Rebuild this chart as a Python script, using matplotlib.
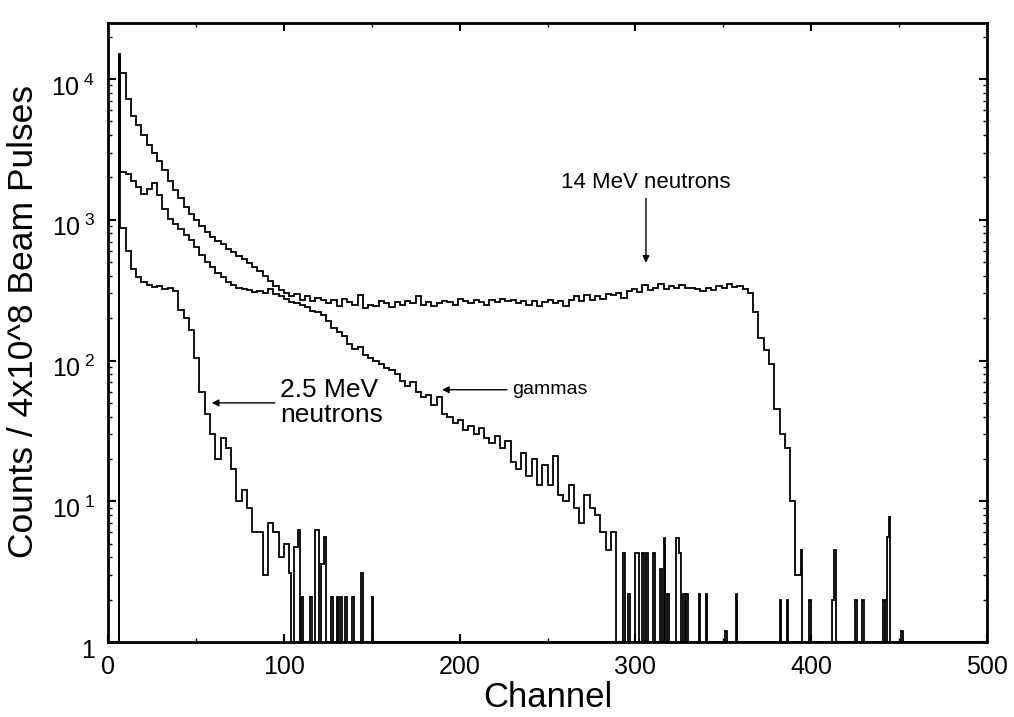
import numpy as np
import matplotlib
matplotlib.use('Agg')
import matplotlib.pyplot as plt
from matplotlib.ticker import MultipleLocator, NullFormatter
from matplotlib.transforms import ScaledTranslation

plt.rcParams['font.family'] = ['Liberation Sans', 'DejaVu Sans']
plt.rcParams['mathtext.fontset'] = 'custom'
plt.rcParams['mathtext.rm'] = 'Liberation Sans'
plt.rcParams['mathtext.it'] = 'Liberation Sans:italic'

# spectra: counts in 3-channel bins from bin_start,
# plus single channels (the first channel and the sparse tail counts)
bin_start = 7
bin_width = 3

n14_counts = [11000, 7200, 5500, 4700, 4000, 3400, 3000, 2600, 2250, 1900,
              1620, 1420, 1240, 1100, 990, 900, 820, 760, 710, 670,
              620, 590, 550, 525, 495, 465, 435, 400, 370, 340,
              315, 300,
              285, 295, 270, 285, 265, 280, 270, 255, 270, 245,
              275, 260, 250, 290, 235, 250, 245, 265, 255, 240,
              260, 250, 265, 255, 285, 250, 260, 245, 255, 265,
              260, 250, 275, 265, 255, 270, 260, 250, 270, 260,
              275, 265, 270, 255, 265, 250, 265, 245, 260, 270,
              255, 265, 245, 270, 285, 265, 290, 270, 285, 275,
              295, 290, 300, 280, 310, 320, 305, 345, 315, 330,
              350, 320, 340, 330, 345, 325, 330, 320, 310, 330,
              315, 340, 330, 350, 335, 340, 320,
              300, 220, 145, 118, 95, 45, 30, 24, 10, 3]
n14_single_ch = [6, 394, 399, 412, 413, 425, 429, 441, 443, 444, 451]
n14_single_n = [15000, 4.5, 2, 2, 4.5, 2, 2, 2, 5.6, 7.7, 1.2]

gamma_counts = [2200, 2100, 1900, 1700, 1530, 1650, 1820, 1500, 1200, 1020,
                930, 860, 780, 720, 640, 560, 500, 460, 420, 390,
                360, 345, 330, 320, 315, 305, 310, 300, 320, 295,
                285, 275, 260, 255, 250, 240, 225, 220, 210, 190,
                170, 160, 150, 130, 120, 125, 110, 105, 100, 95,
                88, 85, 80, 72, 66, 70, 60, 55, 57, 48,
                55, 42, 40, 36, 38, 32, 34, 30, 33, 28,
                26, 29, 24, 27, 19, 17, 22, 15, 20, 13,
                18, 13, 21, 11, 10, 13, 9, 7, 11, 9,
                8, 6, 4.5, 6]
gamma_single_ch = [6, 293, 296, 300, 301, 304, 306, 310, 314, 316, 318, 323,
                   324, 325, 327, 329, 336, 340, 351, 357, 382, 386]
gamma_single_n = [14000, 4.3, 2.2, 4.3, 4.3, 4.3, 4.3, 4.3, 3.3, 5.5, 2.2, 5.5,
                  5.5, 4.3, 2.2, 2.2, 2.2, 2.2, 1.2, 2.2, 2, 2]

n25_counts = [870, 600, 450, 390, 360, 345, 335, 340, 320, 330,
              310, 230, 200, 165, 105, 60, 42, 30, 20, 28,
              24, 17, 10, 12, 9, 6, 6, 3, 7, 6,
              4, 5]
n25_single_ch = [6, 103, 106, 107, 108, 110, 115, 118, 119, 121, 122, 123,
                 127, 130, 132, 135, 139, 144, 150]
n25_single_n = [13000, 3.1, 4.7, 4.7, 6.2, 2.1, 2.1, 6.2, 6.2, 3.6, 3.6, 5.6,
                2.1, 2.1, 2.1, 2.1, 2.1, 3.1, 2.1]

n_channels = 500


def spectrum(bin_counts, single_ch, single_n):
    counts = np.ones(n_channels)
    for i, c in enumerate(bin_counts):
        lo = bin_start + bin_width * i
        counts[lo:lo + bin_width] = c
    counts[single_ch] = single_n
    return counts


edges = np.arange(n_channels + 1)

fig = plt.figure(figsize=(10.14, 7.17), dpi=100)
ax = fig.add_axes([0.1065, 0.1046, 0.8669, 0.8633])

for bc, sc, sn in [(n14_counts, n14_single_ch, n14_single_n),
                   (gamma_counts, gamma_single_ch, gamma_single_n),
                   (n25_counts, n25_single_ch, n25_single_n)]:
    ax.stairs(spectrum(bc, sc, sn), edges, baseline=None, color='black', lw=1.3)

ax.set_yscale('log')
ax.set_xlim(0, 500)
ax.set_ylim(1, 2.5e4)

ax.set_yticks([1, 10, 100, 1000, 10000])
ax.set_yticklabels(['1', r'$\mathregular{10^{\ 1}}$', r'$\mathregular{10^{\ 2}}$',
                    r'$\mathregular{10^{\ 3}}$', r'$\mathregular{10^{\ 4}}$'])
ax.yaxis.set_minor_formatter(NullFormatter())
ax.xaxis.set_major_locator(MultipleLocator(100))
ax.xaxis.set_minor_locator(MultipleLocator(50))

ax.tick_params(which='both', direction='in', top=True, right=True, labelsize=18)
ax.tick_params(which='major', length=6, width=1.5, pad=9)
ax.tick_params(which='minor', length=3, width=1.0)
for s in ax.spines.values():
    s.set_linewidth(2.0)

# y tick labels sit a little below their ticks in the original
shift = ScaledTranslation(0, -0.06, fig.dpi_scale_trans)
for lab in ax.get_yticklabels():
    lab.set_transform(lab.get_transform() + shift)

ax.set_xlabel('Channel', fontsize=25, labelpad=2)
ax.set_ylabel('Counts / 4x10^8 Beam Pulses', fontsize=25.5)
ax.yaxis.set_label_coords(-0.077, 0.517)

# annotations
arrow = dict(arrowstyle='-|>', color='black', lw=1.0, mutation_scale=10, shrinkA=0, shrinkB=0)
ax.text(306, 1850, '14 MeV neutrons', fontsize=16, ha='center', va='center')
ax.annotate('', xy=(306, 495), xytext=(306, 1420), arrowprops=arrow)
ax.text(230, 62, 'gammas', fontsize=14, ha='left', va='center')
ax.annotate('', xy=(190, 62), xytext=(227, 62), arrowprops=arrow)
ax.text(98, 50, '2.5 MeV\nneutrons', fontsize=19, ha='left', va='center', linespacing=1.05)
ax.annotate('', xy=(59, 50), xytext=(95, 50), arrowprops=arrow)

fig.savefig('out.png', dpi=100)
